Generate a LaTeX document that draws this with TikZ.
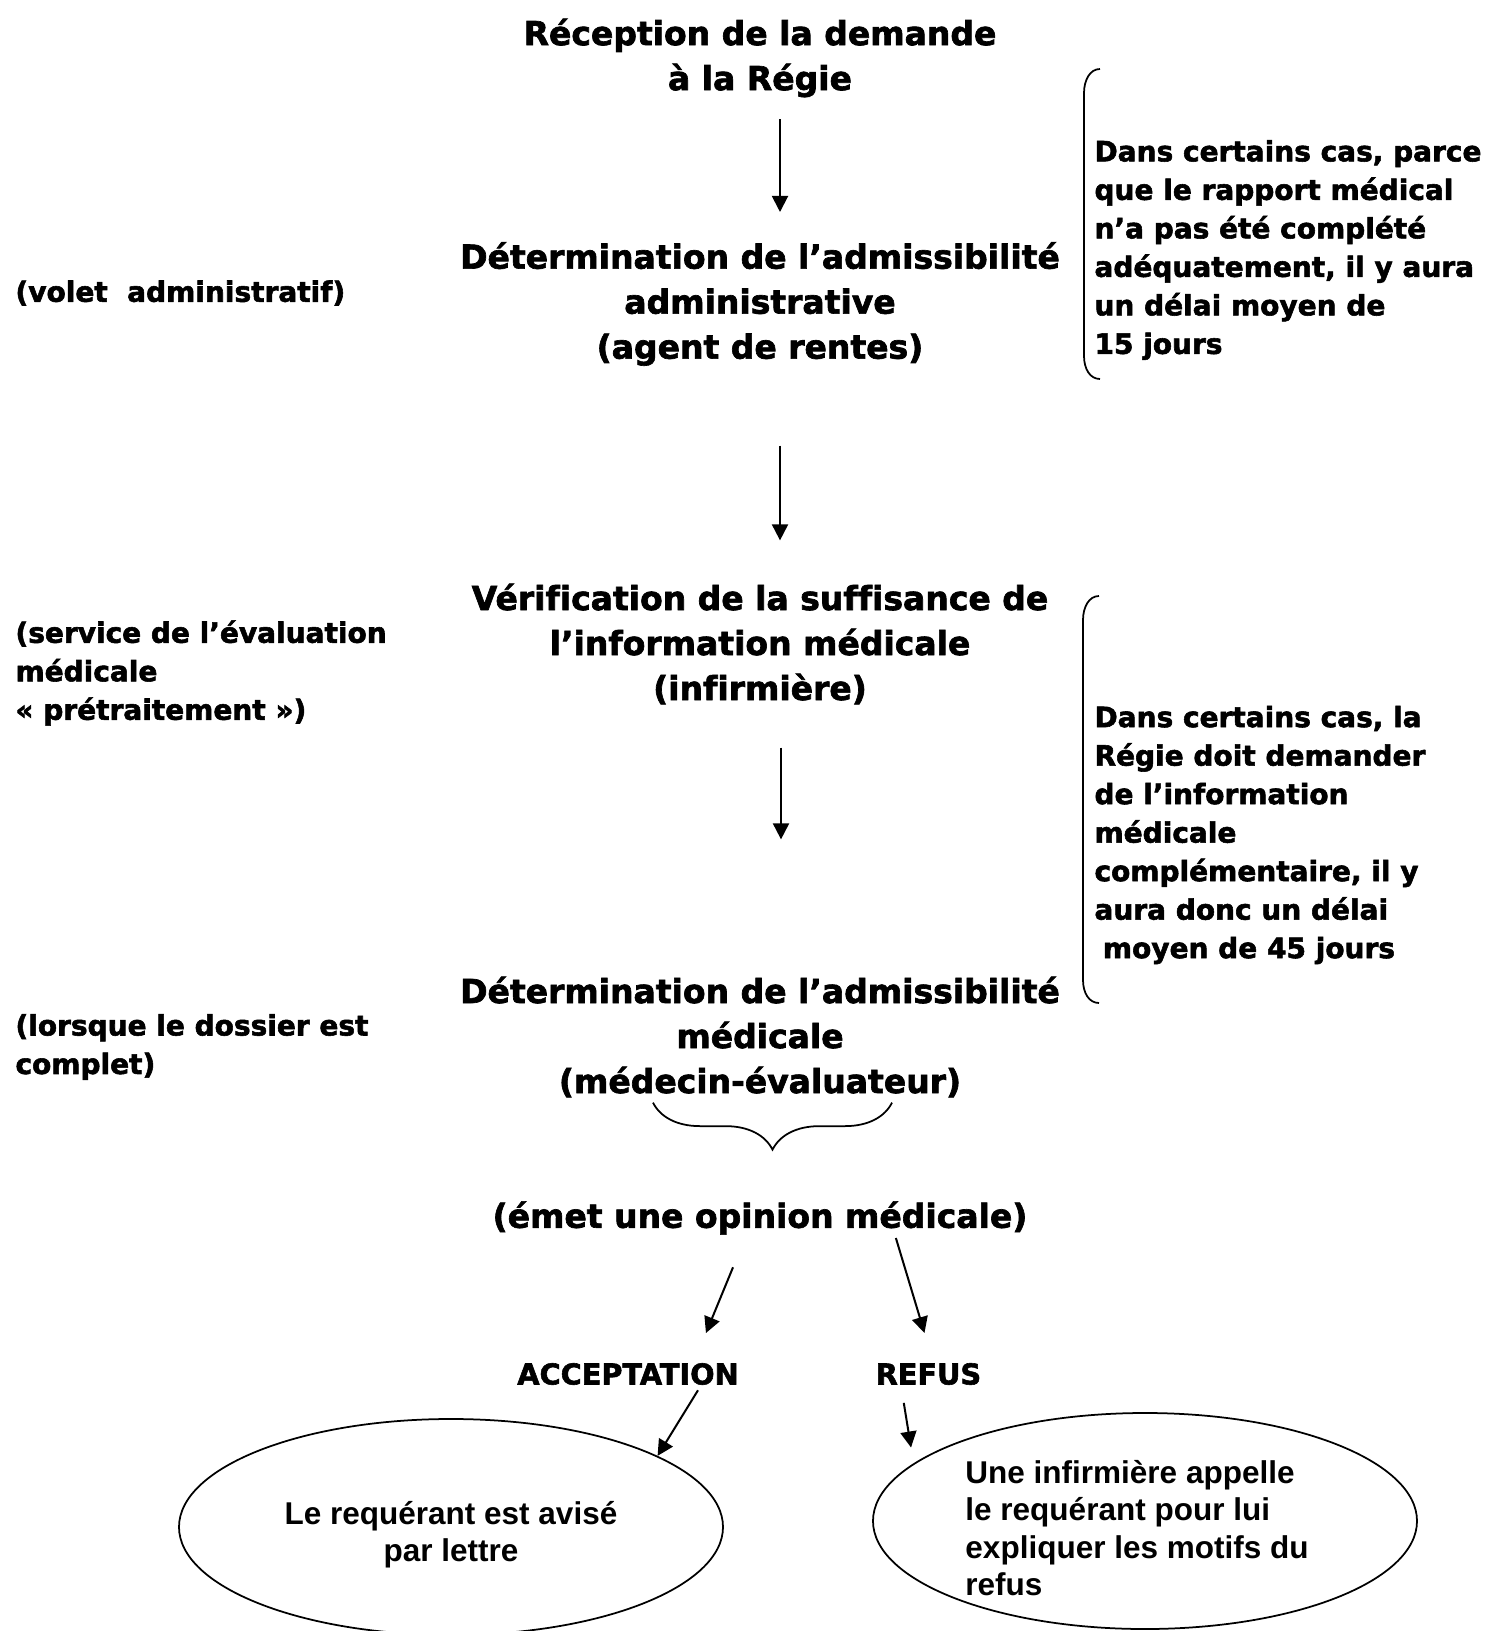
\documentclass[tikz,border=0pt]{standalone}
\usepackage{fontspec}
\setmainfont{DejaVu Sans}[Ligatures=NoCommon, BoldFeatures={FakeBold=2}]
\newfontfamily\arialfont{Liberation Sans}
\usetikzlibrary{arrows.meta, decorations.pathreplacing, positioning, shapes.geometric}
\newcommand{\titrefont}{\fontsize{13.2}{18}\selectfont\bfseries}
\newcommand{\notefont}{\fontsize{11.2}{15.4}\selectfont\bfseries}
\newcommand{\choixfont}{\fontsize{11.5}{15.4}\selectfont\bfseries}
\newcommand{\bullefont}{\arialfont\fontsize{12.6}{15}\selectfont\bfseries}
\begin{document}
\begin{tikzpicture}[x=0.4pt, y=-0.4pt,
  titre/.style={font=\titrefont, align=center, inner sep=0pt},
  note/.style={font=\notefont, align=left, anchor=west, inner sep=0pt},
  choix/.style={font=\choixfont, inner sep=0pt},
  bulletxt/.style={font=\bullefont, inner sep=0pt},
  bulle/.style={ellipse, draw, line width=0.7pt, inner sep=0pt, minimum width=217.6pt, minimum height=86.4pt},
  fleche/.style={-{Triangle[length=6.4pt, width=6.4pt]}, line width=0.8pt},
  crochet/.style={line width=0.7pt}]
\useasboundingbox (0,0) rectangle (1486,1631);

\node[titre] (recep) at (760,58) {Réception de la demande\\à la Régie};
\node[titre] (admin) at (760,304) {Détermination de l’admissibilité\\administrative\\(agent de rentes)};
\node[titre] (verif) at (760,644) {Vérification de la suffisance de\\l’information médicale\\(infirmière)};
\node[titre] (medic) at (760,1037) {Détermination de l’admissibilité\\médicale\\(médecin-évaluateur)};
\node[titre] (opinion) at (760,1218) {(émet une opinion médicale)};

\node[note] (volet) at (15,293) {(volet\ \ administratif)};
\node[note] (service) at (15,673) {(service de l’évaluation\\médicale\\«~prétraitement~»)};
\node[note] (dossier) at (15,1047) {(lorsque le dossier est\\complet)};

\node[note] (delai1) at (1094,250) {Dans certains cas, parce\\que le rapport médical\\n’a pas été complété\\adéquatement, il y aura\\un délai moyen de\\15 jours};
\node[note] (delai2) at (1094,835) {Dans certains cas, la\\Régie doit demander\\de l’information\\médicale\\complémentaire, il y\\aura donc un délai\\\hspace*{0.3em}moyen de 45 jours};

\node[choix] (accept) at (628,1374) {ACCEPTATION};
\node[choix, right=54.4pt of accept] (refus) {REFUS};

\node[bulle] (lettre) at (451,1527) {};
\node[bulle] (appel) at (1145,1521) {};
\node[bulletxt, align=center] (lettretxt) at ([yshift=-3pt]lettre.center) {Le requérant est avisé\\par lettre};
\node[bulletxt, align=left] (appeltxt) at ([xshift=-3.2pt, yshift=-2.8pt]appel.center) {Une infirmière appelle\\le requérant pour lui\\expliquer les motifs du\\refus};

\draw[fleche, shorten <=8.5pt, shorten >=11.9pt] ([xshift=8pt]recep.south) -- ([xshift=8pt]admin.north);
\draw[fleche, shorten <=31.7pt, shorten >=17.1pt] ([xshift=8pt]admin.south) -- ([xshift=8pt]verif.north);
\draw[fleche, shorten <=17.1pt, shorten >=54.7pt] ([xshift=8.4pt]verif.south) -- ([xshift=8.4pt]medic.north);
\draw[fleche, shorten <=13.9pt, shorten >=12.8pt] ([xshift=-5.5pt]opinion.south) -- ([xshift=26.3pt]accept.north);
\draw[fleche, shorten <=1.2pt, shorten >=12.4pt] ([xshift=54pt]opinion.south) -- ([xshift=2pt]refus.north);
\draw[fleche, shorten <=2.3pt] ([xshift=29.2pt]accept.south) -- (lettre.19.5);
\draw[fleche, shorten <=7.1pt, shorten >=6.4pt] ([xshift=-11pt]refus.south) -- (appel.166.7);

\draw[crochet, decorate, decoration={brace, mirror, amplitude=18.8pt}] ([xshift=-42.8pt, yshift=-1.9pt]medic.south) -- ([xshift=52.8pt, yshift=-1.9pt]medic.south);
\draw[crochet] (1100,69) .. controls (1090,69) and (1084,80) .. (1084,93) -- (1084,356) .. controls (1084,369) and (1090,379) .. (1100,379);
\draw[crochet] (1099,596) .. controls (1089,596) and (1083,607) .. (1083,620) -- (1083,980) .. controls (1083,993) and (1089,1003) .. (1099,1003);
\end{tikzpicture}
\end{document}
